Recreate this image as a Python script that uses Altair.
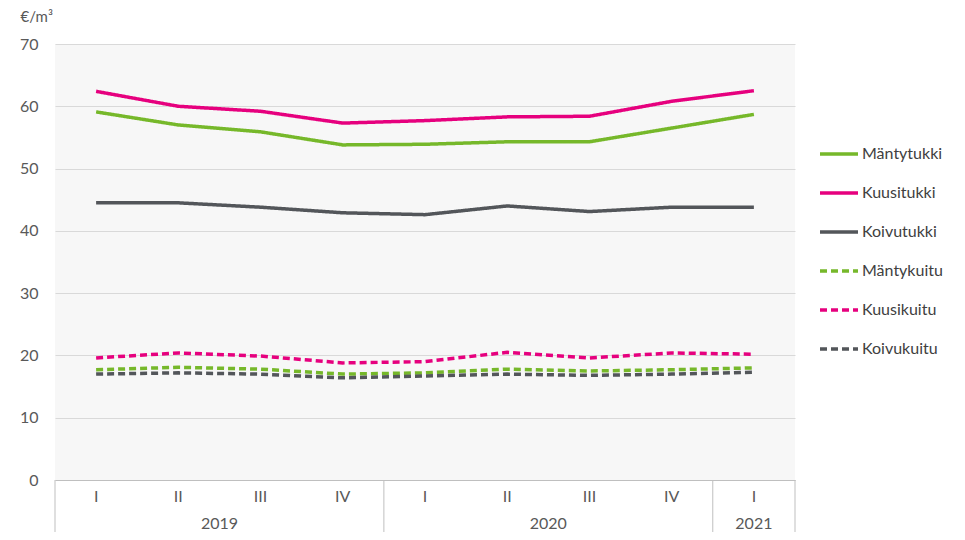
import altair as alt
import pandas as pd

quarters = ["I", "II", "III", "IV", "I", "II", "III", "IV", "I"]
years = ["2019", "2020", "2021"]
year_centers = [1.5, 5.5, 8.0]
separators = [-0.5, 3.5, 7.5, 8.5]

series_names = ["Mäntytukki", "Kuusitukki", "Koivutukki", "Mäntykuitu", "Kuusikuitu", "Koivukuitu"]
mantytukki = [59.1, 57.0, 55.9, 53.8, 53.9, 54.3, 54.3, 56.5, 58.7]
kuusitukki = [62.4, 60.0, 59.2, 57.3, 57.7, 58.3, 58.4, 60.8, 62.5]
koivutukki = [44.5, 44.5, 43.8, 42.9, 42.6, 44.0, 43.1, 43.8, 43.8]
mantykuitu = [17.7, 18.1, 17.8, 17.0, 17.2, 17.8, 17.5, 17.7, 18.0]
kuusikuitu = [19.6, 20.4, 19.9, 18.8, 19.0, 20.5, 19.6, 20.4, 20.2]
koivukuitu = [17.0, 17.2, 17.0, 16.4, 16.7, 17.0, 16.8, 17.0, 17.3]
values = [mantytukki, kuusitukki, koivutukki, mantykuitu, kuusikuitu, koivukuitu]

colors = ["#76b82a", "#e6007e", "#53565a", "#76b82a", "#e6007e", "#53565a"]
dashes = [[1, 0], [1, 0], [1, 0], [7, 4], [7, 4], [7, 4]]

FONT = "Lato"
TXT = "#595959"

rows = []
for name, vals in zip(series_names, values):
    for i, v in enumerate(vals):
        rows.append({"series": name, "idx": i, "value": v})
df = pd.DataFrame(rows)

qdf = pd.DataFrame({"idx": list(range(len(quarters))), "q": quarters})
ydf = pd.DataFrame({"pos": year_centers, "year": years})
sdf = pd.DataFrame({"pos": separators})

xscale = alt.Scale(domain=[-0.5, 8.5], nice=False, zero=False)

lines = alt.Chart(df).mark_line(strokeWidth=3.5, strokeCap="butt").encode(
    x=alt.X("idx:Q", scale=xscale,
            axis=alt.Axis(labels=False, ticks=False, grid=False, title=None,
                          domainColor="#bfbfbf", domainWidth=1)),
    y=alt.Y("value:Q", scale=alt.Scale(domain=[0, 70], nice=False),
            axis=alt.Axis(values=[0, 10, 20, 30, 40, 50, 60, 70], ticks=False, domain=False,
                          gridColor="#d9d9d9", labelFontSize=16, labelColor=TXT,
                          labelFont=FONT, labelPadding=17,
                          title="€/m³", titleAngle=0, titleAlign="left",
                          titleBaseline="top", titleX=-35, titleY=-35,
                          titleFont=FONT, titleFontSize=15, titleFontWeight="normal",
                          titleColor=TXT)),
    color=alt.Color("series:N", scale=alt.Scale(domain=series_names, range=colors),
                    sort=series_names, legend=alt.Legend(title=None)),
    strokeDash=alt.StrokeDash("series:N", scale=alt.Scale(domain=series_names, range=dashes),
                              sort=series_names, legend=alt.Legend(title=None)),
    detail="series:N",
)

qlabels = alt.Chart(qdf).mark_text(fontSize=16, color=TXT, font=FONT, baseline="middle").encode(
    x=alt.X("idx:Q", scale=xscale),
    y=alt.value(453),
    text="q:N",
)

ylabels = alt.Chart(ydf).mark_text(fontSize=16, color=TXT, font=FONT, baseline="middle").encode(
    x=alt.X("pos:Q", scale=xscale),
    y=alt.value(480),
    text="year:N",
)

seps = alt.Chart(sdf).mark_rule(color="#bfbfbf", strokeWidth=1).encode(
    x=alt.X("pos:Q", scale=xscale),
    y=alt.value(436),
    y2=alt.value(500),
)

chart = alt.layer(lines, seps, qlabels, ylabels).properties(
    width=740, height=436,
    autosize=alt.AutoSizeParams(type="none"),
    padding={"left": 47, "top": 36, "right": 160, "bottom": 52},
).configure_view(
    fill="#f7f7f7", stroke=None
).configure_legend(
    orient="none", legendX=763, legendY=89,
    symbolType="stroke", symbolStrokeWidth=3.5, symbolSize=1444,
    labelFontSize=16, labelColor="#404040", labelFont=FONT, labelOffset=2,
    rowPadding=10, labelLimit=200,
)

chart.save("out.html", embed_options={"renderer": "svg", "actions": False})
